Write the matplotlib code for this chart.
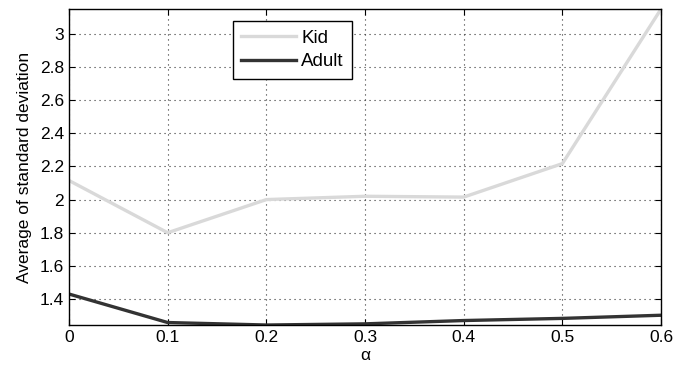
import matplotlib
matplotlib.use("Agg")
from matplotlib import pyplot as plt

alpha = [0, 0.1, 0.2, 0.3, 0.4, 0.5, 0.6]
kid = [2.115, 1.80, 2.0, 2.02, 2.015, 2.217, 3.15]
adult = [1.43, 1.258, 1.243, 1.25, 1.27, 1.283, 1.302]

xticks = [0, 0.1, 0.2, 0.3, 0.4, 0.5, 0.6]
yticks = [1.4, 1.6, 1.8, 2.0, 2.2, 2.4, 2.6, 2.8, 3.0]
ytick_labels = ["1.4", "1.6", "1.8", "2", "2.2", "2.4", "2.6", "2.8", "3"]

plt.rcParams['font.family'] = ['Liberation Sans', 'DejaVu Sans']

fig = plt.figure(figsize=(6.86, 3.67), dpi=100)
ax = fig.add_axes([0.1006, 0.1144, 0.863, 0.861])

ax.plot(alpha, kid, color='#d9d9d9', lw=2.4, label='Kid')
ax.plot(alpha, adult, color='#333333', lw=2.4, label='Adult')

ax.set_xlim(0, 0.6)
ax.set_ylim(1.243, 3.15)
ax.set_xticks(xticks)
ax.set_xticklabels([f"{t:g}" for t in xticks])
ax.set_yticks(yticks)
ax.set_yticklabels(ytick_labels)
ax.tick_params(direction='in', top=True, right=True, length=4, labelsize=12.5, width=0.8)
ax.grid(True, color='#333333', linestyle=(0, (1, 3.5)), linewidth=0.8)
for s in ax.spines.values():
    s.set_linewidth(1.0)

ax.set_xlabel('α', fontsize=12.5, labelpad=2)
ax.set_ylabel('Average of standard deviation', fontsize=12.5, labelpad=6)

leg = ax.legend(loc='upper left', bbox_to_anchor=(0.277, 0.962), fontsize=13.5,
                frameon=True, fancybox=False, edgecolor='black', framealpha=1,
                handlelength=2.9, handletextpad=0.3, borderpad=0.45, labelspacing=0.35,
                borderaxespad=0)
leg.get_frame().set_linewidth(1.0)

fig.savefig('out.png', dpi=100)
